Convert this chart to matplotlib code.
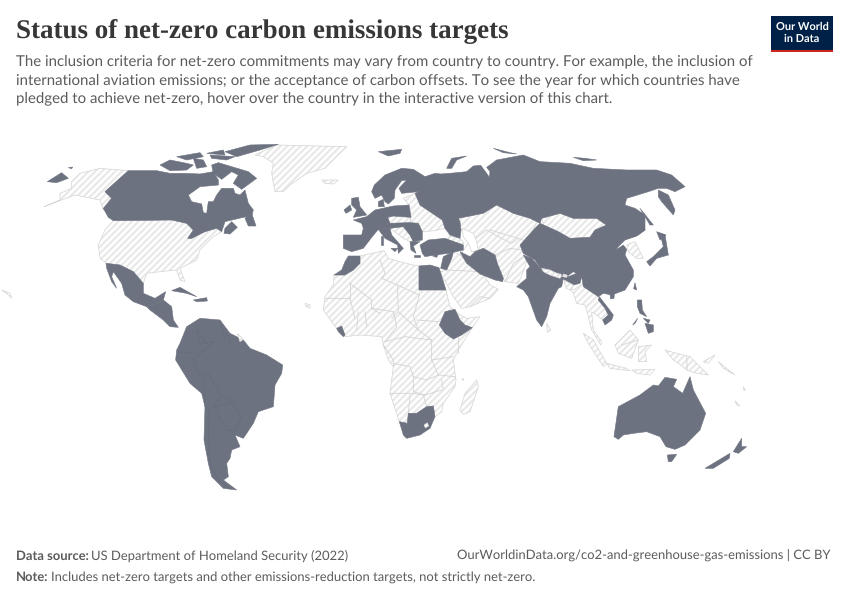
import numpy as np
import matplotlib
matplotlib.use("Agg")
import matplotlib.pyplot as plt
from matplotlib.patches import Polygon, Rectangle

TITLE = "Status of net-zero carbon emissions targets"
SUBTITLE = ["The inclusion criteria for net-zero commitments may vary from country to country. For example, the inclusion of",
            "international aviation emissions; or the acceptance of carbon offsets. To see the year for which countries have",
            "pledged to achieve net-zero, hover over the country in the interactive version of this chart."]
SOURCE_LABEL = "Data source:"
SOURCE = "US Department of Homeland Security (2022)"
URL = "OurWorldinData.org/co2-and-greenhouse-gas-emissions | CC BY"
NOTE_LABEL = "Note:"
NOTE = "Includes net-zero targets and other emissions-reduction targets, not strictly net-zero."

DARK = "#6d7280"
HATCH = "#e8e8e8"
BORDER = "#d4d4d4"

# Outlines, each in a map frame: (left, top) with 3 units per pixel
AMERICAS = (0, 130)
EURASIA = (310, 130)
SOUTH = (310, 280)
EUROPE = (335, 160)

pledged_americas = {
 "Canada": [(385,122),(470,122),(510,130),(555,130),(600,132),(640,125),(655,150),(655,165),(600,170),(565,195),(575,215),(605,222),(610,248),(620,250),(625,215),(640,215),(650,195),(665,175),(700,175),(705,190),(720,195),(735,180),(745,220),(760,240),(755,258),(730,262),(675,275),(665,305),(650,295),(615,305),(575,325),(563,325),(580,300),(560,280),(515,270),(340,272),(325,262),(310,235),(335,205),(315,185)],
 "Baffin": [(635,105),(655,98),(745,125),(770,145),(725,178),(700,160),(715,135),(695,125),(665,148),(640,130)],
 "Ellesmere": [(675,65),(750,45),(835,43),(780,60),(710,80)],
 "Devon": [(630,75),(705,80),(680,90),(635,85)],
 "Melville": [(530,80),(600,68),(610,80),(560,90)],
 "Victoria": [(480,105),(510,90),(560,100),(580,105),(560,120),(510,122)],
 "PrinceOfWales": [(580,85),(610,90),(620,110),(590,115)],
 "AxelHeiberg": [(620,70),(670,60),(675,75)],
 "NovaScotia": [(675,295),(695,275),(712,292),(690,312),(672,310)],
 "Newfoundland": [(735,265),(755,250),(768,288),(745,288)],
 "Chukotka": [(142,155),(185,128),(205,145),(170,158)],
 "Wrangel": [(205,113),(218,111),(215,116)],
 "Mexico": [(318,400),(360,405),(400,425),(430,460),(430,490),(465,505),(497,485),(490,510),(470,520),(440,530),(400,515),(375,495),(365,460),(340,425),(335,440),(350,475),(335,455),(320,415)],
 "CentralAmerica": [(440,530),(470,520),(490,510),(515,530),(520,570),(535,592),(510,590),(490,570),(450,540)],
 "Cuba": [(515,482),(540,472),(590,500),(560,490)],
 "Hispaniola": [(580,510),(620,503),(622,513),(590,515)],
 "SouthAmerica": [(540,640),(560,590),(600,565),(660,570),(690,610),(730,630),(750,655),(800,675),(848,705),(845,730),(825,765),(820,830),(775,845),(760,880),(730,925),(705,915),(720,950),(695,960),(690,985),(680,1000),(685,1040),(670,1050),(710,1080),(670,1075),(635,1040),(625,1000),(612,930),(615,830),(605,790),(570,760),(527,690),(530,660)],
}
pledged_europe = {
 "Nordics": [(110,95),(118,75),(150,45),(200,25),(235,28),(270,50),(270,70),(250,95),(200,100),(192,85),(215,60),(200,62),(180,90),(178,115),(160,132),(150,125),(140,105),(120,115)],
 "Denmark": [(130,125),(145,118),(148,140),(130,140)],
 "UK": [(50,115),(70,112),(75,140),(95,165),(55,172),(65,150),(50,135)],
 "Ireland": [(27,150),(45,135),(50,150),(33,160)],
 "Continent": [(55,180),(95,170),(120,150),(175,138),(222,135),(228,172),(175,168),(158,172),(165,190),(225,188),(250,190),(262,215),(262,240),(235,245),(225,225),(205,200),(165,205),(130,208),(110,232),(85,265),(50,275),(25,265),(25,225),(80,225),(85,205),(80,190)],
 "Italy": [(130,208),(165,205),(170,225),(205,265),(190,280),(188,255),(150,235)],
 "Corsica": [(138,228),(145,228),(145,255),(138,255)],
 "Sicily": [(168,265),(188,265),(180,275)],
 "Greece": [(225,245),(255,245),(235,258),(243,280),(228,270)],
 "Crete": [(237,286),(255,286),(255,290),(237,290)],
 "Turkey": [(255,255),(280,240),(330,235),(385,255),(385,270),(340,280),(300,285),(270,290),(262,280)],
}
pledged_eurasia = {
 "Russia": [(345,140),(375,130),(392,132),(420,130),(470,125),(490,108),(512,106),(530,130),(538,142),(540,125),(530,112),(560,90),(640,75),(690,95),(780,100),(850,115),(950,120),(1040,120),(1085,135),(1125,170),(1095,185),(1070,175),(1045,175),(1015,185),(950,205),(945,225),(975,235),(1005,255),(1005,300),(985,315),(975,320),(950,300),(930,285),(890,285),(860,265),(790,265),(750,250),(695,265),(690,280),(660,265),(610,250),(560,225),(520,250),(445,265),(450,275),(453,300),(450,325),(420,315),(405,295),(397,270),(330,225),(315,190),(325,185)],
 "Kamchatka": [(1045,180),(1075,195),(1095,240),(1090,255),(1055,215),(1045,200)],
 "NovayaZemlya": [(410,115),(425,85),(470,78),(440,90),(425,115)],
 "Sakhalin": [(990,235),(1030,285),(1020,285)],
 "Severnaya": [(790,82),(825,85),(860,90),(820,92)],
 "NewSiberian": [(550,55),(600,68),(620,72),(580,68)],
 "Svalbard": [(205,65),(275,58),(270,70),(235,78)],
 "Honshu": [(1010,395),(1030,380),(1060,350),(1050,310),(1065,315),(1075,375),(1040,385),(1020,408)],
 "Hokkaido": [(1040,305),(1068,315),(1050,330)],
 "Morocco": [(72,435),(105,435),(130,420),(150,400),(150,378),(115,378),(105,395),(95,420)],
 "Levant": [(392,415),(400,380),(430,365),(425,385),(410,420)],
 "Cyprus": [(368,378),(385,372),(380,382)],
 "Iran": [(450,365),(480,380),(495,365),(520,355),(555,375),(562,400),(580,445),(578,455),(555,450),(510,432),(470,400),(458,380)],
 "Egypt": [(327,408),(360,405),(387,413),(408,480),(327,480)],
 "China": [(630,345),(670,300),(690,280),(745,305),(780,325),(840,322),(855,300),(890,285),(870,270),(865,240),(930,240),(950,270),(1000,265),(1005,300),(975,320),(945,330),(925,350),(918,360),(940,345),(950,358),(945,375),(970,420),(970,440),(945,480),(905,495),(880,490),(865,500),(820,470),(815,440),(790,425),(770,440),(750,430),(695,420),(675,390),(640,370)],
 "India": [(640,375),(665,385),(675,395),(695,420),(750,440),(760,430),(775,440),(800,430),(815,440),(810,460),(790,465),(780,480),(760,445),(755,470),(745,475),(720,520),(710,560),(695,590),(680,570),(655,500),(640,480),(620,470),(650,445),(650,420),(660,410)],
 "Taiwan": [(975,458),(980,480),(971,476)],
 "Hainan": [(900,495),(913,490),(912,505),(902,507)],
}
pledged_south = {
 "Ethiopia": [(388,135),(405,95),(435,88),(450,120),(465,135),(487,143),(455,165),(430,177),(405,160)],
 "Liberia": [(80,145),(95,138),(105,165),(100,170),(85,155)],
 "SouthAfrica": [(268,425),(292,430),(295,400),(320,400),(350,380),(370,378),(375,410),(360,445),(330,465),(290,475),(280,465)],
 "Vietnam": [(868,50),(895,85),(910,105),(905,120),(885,135),(878,120),(895,105),(885,85),(865,60)],
 "Luzon": [(982,60),(995,60),(997,90),(1010,110),(990,100),(982,80)],
 "Visayas": [(1000,115),(1020,120),(1015,130)],
 "Mindanao": [(1005,130),(1030,135),(1030,155),(1015,160)],
 "Palawan": [(968,135),(983,115),(975,130)],
 "Australia": [(912,470),(925,380),(990,345),(1030,315),(1045,318),(1065,292),(1100,298),(1090,320),(1118,340),(1140,290),(1150,330),(1187,400),(1170,450),(1125,495),(1095,508),(1068,500),(1050,470),(1010,455),(970,460),(940,465),(925,478)],
 "Tasmania": [(1072,525),(1100,523),(1085,545),(1075,545)],
 "NZSouth": [(1185,565),(1260,520),(1258,535),(1210,565)],
 "NZNorth": [(1270,515),(1295,475),(1295,500),(1310,500),(1285,520)],
}
other_americas = {
 "Alaska": [(132,230),(180,210),(180,190),(215,175),(215,155),(240,130),(300,115),(385,122),(315,185),(335,200),(310,240),(300,210),(225,195)],
 "USA": [(340,272),(515,270),(560,280),(580,300),(563,325),(575,325),(615,305),(650,295),(665,305),(640,320),(600,360),(590,390),(540,415),(555,455),(540,450),(530,420),(480,425),(440,430),(430,460),(400,425),(360,405),(320,400),(300,385),(295,345),(315,300)],
 "Greenland": [(765,75),(830,45),(1040,50),(1010,80),(975,115),(920,130),(870,165),(850,185),(825,185),(815,130),(820,100),(790,80)],
 "Iceland": [(965,150),(1015,150),(1000,162),(975,160)],
 "Hawaii": [(5,480),(30,490),(35,505),(25,495)],
 "CapeVerde": [(915,520),(930,525),(930,535),(918,530)],
}
other_europe = {
 "EastEurope": [(205,115),(240,100),(255,135),(322,180),(330,205),(300,212),(262,215),(250,190),(225,188),(228,172),(222,135)],
 "Czechia": [(158,172),(175,168),(228,172),(225,188),(165,190)],
 "Balkans": [(165,205),(205,200),(225,225),(235,245),(225,245),(205,235)],
 "Caucasus": [(345,228),(375,235),(388,252),(360,250),(335,240)],
}
other_eurasia = {
 "CentralAsia": [(442,270),(455,252),(515,250),(555,225),(605,245),(660,260),(685,270),(665,310),(645,340),(635,360),(655,380),(640,425),(625,460),(585,455),(560,400),(555,375),(520,355),(490,365),(475,340),(460,305),(445,290)],
 "Mongolia": [(695,265),(750,250),(790,265),(860,265),(890,285),(855,300),(840,322),(780,325),(745,305),(700,285)],
 "Arabia": [(430,365),(450,375),(480,405),(515,425),(540,465),(565,478),(540,505),(480,530),(455,535),(430,500),(390,425),(410,420),(425,385)],
 "Korea": [(950,345),(975,335),(985,355),(1000,385),(980,385),(955,365)],
 "Africa": [(72,435),(105,435),(130,420),(150,400),(150,378),(222,362),(235,385),(270,395),(310,405),(327,408),(327,480),(408,480),(420,530),(450,555),(470,565),(510,560),(487,593),(445,660),(430,690),(438,750),(435,770),(400,820),(395,845),(375,860),(370,828),(350,830),(320,850),(295,850),(292,880),(268,875),(240,790),(250,710),(235,690),(220,645),(215,620),(150,615),(105,620),(80,595),(40,540),(45,500),(70,465)],
}
other_south = {
 "Madagascar": [(450,390),(465,340),(500,300),(505,320),(480,395),(460,403)],
 "Indochina": [(770,15),(790,30),(820,10),(855,30),(868,50),(865,60),(885,85),(895,105),(878,120),(860,105),(845,95),(850,150),(875,185),(872,195),(845,150),(835,110),(825,75),(800,70),(790,40)],
 "SriLanka": [(710,130),(722,150),(712,157)],
 "Sumatra": [(820,160),(850,180),(890,250),(880,260),(835,190)],
 "Java": [(890,250),(950,265),(960,272),(900,265)],
 "Borneo": [(915,195),(960,150),(985,180),(965,235),(925,220)],
 "Sulawesi": [(985,200),(1025,195),(1005,215),(1010,245),(985,245)],
 "Sunda": [(965,270),(1035,268),(1020,285),(980,280)],
 "NewGuinea": [(1065,210),(1100,220),(1140,230),(1195,285),(1160,280),(1130,270),(1105,250),(1090,240)],
 "NewBritain": [(1180,245),(1215,225),(1195,250)],
 "Solomon": [(1225,245),(1275,285),(1240,265)],
 "NewCaledonia": [(1275,362),(1290,378),(1280,375)],
 "Vanuatu": [(1300,320),(1306,330),(1302,332)],
 "Mascarene": [(456,295),(462,298),(460,302)],
}
enclaves_eurasia = {
 "Nepal": [(695,415),(720,420),(755,437),(750,445),(720,435),(700,425)],
 "Bhutan": [(760,432),(772,436),(770,442),(758,440)],
 "Bangladesh": [(762,450),(790,465),(782,480),(768,475)],
}
enclave_guiana = [(712,610),(730,628),(720,635)]
africa_borders = [
 [(120,5),(120,55),(45,55)], [(120,10),(185,60),(185,85),(210,100)],
 [(210,-60),(225,-20),(215,-5),(262,15),(328,45)], [(262,15),(265,95),(245,115)],
 [(328,45),(310,110),(325,150),(365,180)], [(320,120),(385,125)],
 [(120,55),(135,115)], [(145,95),(140,150)], [(165,95),(170,140)],
 [(185,85),(250,95),(260,140),(225,185)], [(265,95),(325,150)],
 [(225,185),(285,170),(365,180)], [(365,180),(365,240),(430,230)], [(445,170),(445,220)],
 [(365,240),(385,285),(435,290)], [(250,250),(300,260),(310,290),(350,300),(385,285)],
 [(240,340),(305,340),(345,345)], [(300,345),(295,400)], [(340,345),(350,380)],
 [(310,290),(310,335),(345,345),(395,330)], [(400,330),(395,300)],
 [(220,195),(250,240),(250,260)], [(1130,230),(1132,270)], [(935,195),(985,180)],
]
eurasia_borders = [
 [(490,330),(530,300),(565,320),(605,340),(625,325),(650,335)], [(555,375),(600,355),(635,360)],
 [(585,455),(610,400),(640,380)], [(450,375),(475,340)], [(410,420),(515,425)],
 [(480,530),(510,500),(540,505)], [(540,300),(625,325)],
]
sa_borders = [
 [(640,635),(580,690),(600,740),(625,730),(660,790),(690,810),(725,860),(705,900)],
 [(590,600),(620,640)], [(530,665),(570,665)], [(610,735),(615,830)],
 [(615,830),(630,840),(625,900),(630,1000),(660,1060)], [(660,800),(640,830),(690,820)],
 [(680,610),(690,640)], [(640,830),(680,900),(705,900)], [(660,575),(675,630)],
 [(590,600),(600,640),(640,635)],
]
lesotho = [(342,435),(352,428),(356,438),(346,444)]
caspian = [(456,295),(490,310),(500,335),(505,360),(485,365),(475,340),(460,320)]

plt.rcParams["hatch.linewidth"] = 1.5
plt.rcParams["text.hinting"] = "no_hinting"
plt.rcParams["text.hinting_factor"] = 1


def to_px(points, frame):
    return np.asarray(points, float) / 3 + np.asarray(frame, float)


fig = plt.figure(figsize=(8.5, 6), dpi=100)
ax = fig.add_axes([0, 0, 1, 1])
ax.set_xlim(0, 850)
ax.set_ylim(600, 0)
ax.axis("off")


def hatched(pts, frame, z):
    ax.add_patch(Polygon(to_px(pts, frame), facecolor="white", edgecolor=HATCH, hatch="/////", lw=0, zorder=z))
    ax.add_patch(Polygon(to_px(pts, frame), fill=False, edgecolor=BORDER, lw=0.5, zorder=z + 0.1))


for group, frame in ((other_americas, AMERICAS), (other_europe, EUROPE), (other_eurasia, EURASIA), (other_south, SOUTH)):
    for name, pts in group.items():
        hatched(pts, frame, 1)
for pts in africa_borders:
    xy = to_px(pts, SOUTH)
    ax.plot(xy[:, 0], xy[:, 1], color=BORDER, lw=0.6, zorder=2)
for pts in eurasia_borders:
    xy = to_px(pts, EURASIA)
    ax.plot(xy[:, 0], xy[:, 1], color=BORDER, lw=0.6, zorder=2)
ax.add_patch(Polygon(to_px(caspian, EURASIA), facecolor="white", edgecolor=BORDER, lw=0.5, zorder=2))

for group, frame in ((pledged_americas, AMERICAS), (pledged_europe, EUROPE), (pledged_eurasia, EURASIA), (pledged_south, SOUTH)):
    for name, pts in group.items():
        ax.add_patch(Polygon(to_px(pts, frame), facecolor=DARK, edgecolor=DARK, lw=0.4, zorder=3))
for name, pts in enclaves_eurasia.items():
    hatched(pts, EURASIA, 4)
hatched(enclave_guiana, AMERICAS, 4)
ax.add_patch(Polygon(to_px(lesotho, SOUTH), facecolor="white", edgecolor=BORDER, lw=0.4, zorder=4))
for pts in sa_borders:
    xy = to_px(pts, AMERICAS)
    ax.plot(xy[:, 0], xy[:, 1], color="#656a78", lw=0.4, zorder=3.5)

# Header
ax.text(16, 31, TITLE, family="Liberation Serif", weight="bold", fontsize=19.63, color="#373737", va="center", ha="left")
for i, line in enumerate(SUBTITLE):
    ax.text(16, 61.5 + i * 18.3, line, family="Lato", fontsize=10.65, color="#5b5b5b", va="center", ha="left")

# Logo
ax.add_patch(Rectangle((771, 16), 62, 36, facecolor="#002147", edgecolor="none", zorder=5))
ax.add_patch(Rectangle((771, 49.5), 62, 2.5, facecolor="#ce261e", edgecolor="none", zorder=6))
ax.text(802, 26.5, "Our World", family="Lato", weight="bold", fontsize=8.2, color="white", ha="center", va="center", zorder=7)
ax.text(802, 38.5, "in Data", family="Lato", weight="bold", fontsize=8.2, color="white", ha="center", va="center", zorder=7)

# Footer
ax.text(16, 556, SOURCE_LABEL, family="Lato", weight="bold", fontsize=9.29, color="#5b5b5b", va="center", ha="left")
ax.text(91, 556, SOURCE, family="Lato", fontsize=9.29, color="#5b5b5b", va="center", ha="left")
ax.text(831, 556, URL, family="Lato", fontsize=9.29, color="#5b5b5b", va="center", ha="right")
ax.text(16, 577, NOTE_LABEL, family="Lato", weight="bold", fontsize=9.29, color="#5b5b5b", va="center", ha="left")
ax.text(51, 577, NOTE, family="Lato", fontsize=9.29, color="#5b5b5b", va="center", ha="left")

fig.savefig("out.png", dpi=100, facecolor="white")
